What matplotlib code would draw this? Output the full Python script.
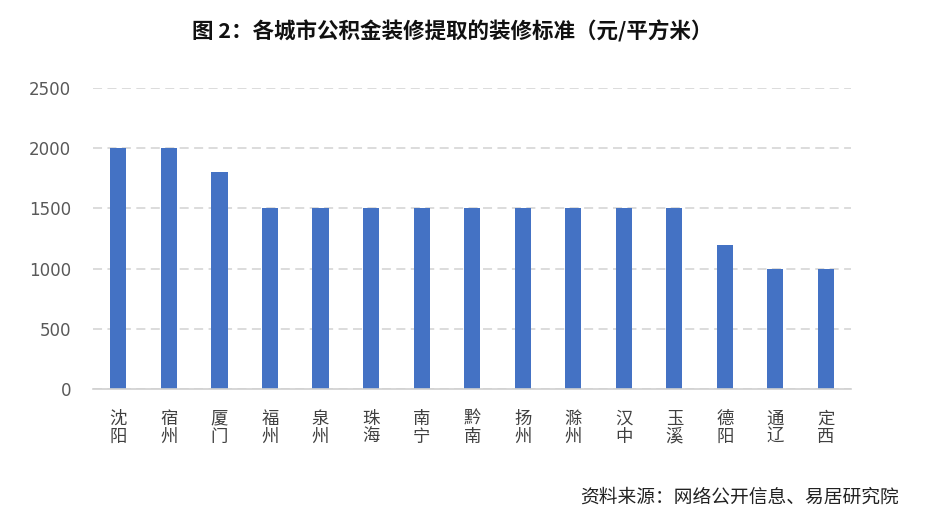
import matplotlib
matplotlib.use("Agg")
import matplotlib.pyplot as plt

plt.rcParams['font.family'] = ['Noto Sans CJK SC', 'DejaVu Sans']

cities = ["沈阳", "宿州", "厦门", "福州", "泉州", "珠海", "南宁", "黔南",
          "扬州", "滁州", "汉中", "玉溪", "德阳", "通辽", "定西"]
standard = [2000, 2000, 1800, 1500, 1500, 1500, 1500, 1500,
            1500, 1500, 1500, 1500, 1200, 1000, 1000]
yticks = [0, 500, 1000, 1500, 2000, 2500]

fig = plt.figure(figsize=(9.5, 5.26), dpi=100)
ax = fig.add_axes([0.098, 0.2605, 0.798, 0.572])

x = range(len(cities))
ax.bar(x, standard, width=0.32, color="#4472C4", zorder=3)

ax.set_xlim(-0.5, len(cities) - 0.5)
ax.set_ylim(0, 2500)
ax.set_yticks(yticks)
ax.set_yticklabels([str(v) for v in yticks], fontsize=12, color="#595959",
                   family=['DejaVu Sans'])
ax.set_xticks(list(x))
ax.set_xticklabels(["\n".join(c) for c in cities], fontsize=12.5,
                   color="#404040", linespacing=1.0)
ax.tick_params(axis="both", length=0)
ax.tick_params(axis="x", pad=15)
ax.tick_params(axis="y", pad=16)

ax.grid(axis="y", color="#d9d9d9", linestyle=(0, (5, 3)), linewidth=1.3, zorder=0)
for s in ["top", "right", "left"]:
    ax.spines[s].set_visible(False)
ax.spines["bottom"].set_color("#d0d0d0")
ax.spines["bottom"].set_linewidth(1.2)
ax.spines["bottom"].set_zorder(4)

fig.text(0.476, 0.94, "图 2：各城市公积金装修提取的装修标准（元/平方米）",
         ha="center", va="center", fontsize=15.5, fontweight="bold", color="#111111")
fig.text(0.946, 0.055, "资料来源：网络公开信息、易居研究院",
         ha="right", va="center", fontsize=13.5, color="#222222")

fig.savefig("out.png", dpi=100)
